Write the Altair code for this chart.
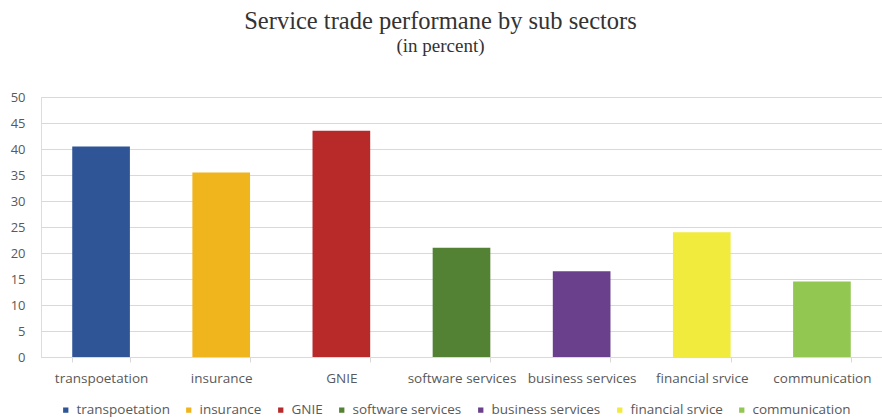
import altair as alt
import pandas as pd

categories = ["transpoetation", "insurance", "GNIE", "software services",
              "business services", "financial srvice", "communication"]
values = [40.5, 35.5, 43.5, 21.0, 16.5, 24.0, 14.5]
colors = ["#2F5597", "#F0B41C", "#B8292A", "#548235", "#6A3F8C", "#F0EB3C", "#92C852"]
y_ticks = [0, 5, 10, 15, 20, 25, 30, 35, 40, 45, 50]

df = pd.DataFrame({"category": categories, "value": values})

label_font = "Open Sans"
label_color = "#595959"

chart = alt.Chart(df).mark_bar().encode(
    x=alt.X("category:N", sort=categories, title=None,
            scale=alt.Scale(paddingInner=0.52, paddingOuter=0.26),
            axis=alt.Axis(labelAngle=0, labelFont=label_font, labelFontSize=13.5,
                          labelColor=label_color, domainColor="#D9D9D9",
                          tickColor="#D9D9D9", tickSize=5, tickBand="extent",
                          labelPadding=9, grid=False)),
    y=alt.Y("value:Q", title=None,
            scale=alt.Scale(domain=[0, 50], nice=False),
            axis=alt.Axis(values=y_ticks, labelFont=label_font, labelFontSize=13,
                          labelColor=label_color, domain=False, ticks=False,
                          labelPadding=16, gridColor="#D9D9D9", gridWidth=1)),
    color=alt.Color("category:N", sort=categories,
                    scale=alt.Scale(domain=categories, range=colors),
                    legend=alt.Legend(title=None, orient="none", direction="horizontal",
                                      legendX=18, legendY=306, symbolType="square",
                                      symbolSize=28, symbolStrokeWidth=0,
                                      labelFont=label_font, labelFontSize=13.5,
                                      labelColor=label_color, columnPadding=12,
                                      symbolOffset=0, labelOffset=4)),
).properties(
    width=841,
    height=260,
    title=alt.TitleParams(
        text="Service trade performane by sub sectors",
        subtitle="(in  percent)",
        font="Liberation Serif", fontSize=24.5, fontWeight="normal", color="#333333",
        subtitleFont="Liberation Serif", subtitleFontSize=19, subtitleColor="#333333",
        subtitlePadding=3, anchor="middle", offset=34, dx=-21,
    ),
    autosize=alt.AutoSizeParams(type="none"),
    padding={"left": 41, "top": 97, "right": 0, "bottom": 63},
).configure_view(stroke=None).configure(background="white")

chart.save("out.html", embed_options={"renderer": "svg", "actions": False})
